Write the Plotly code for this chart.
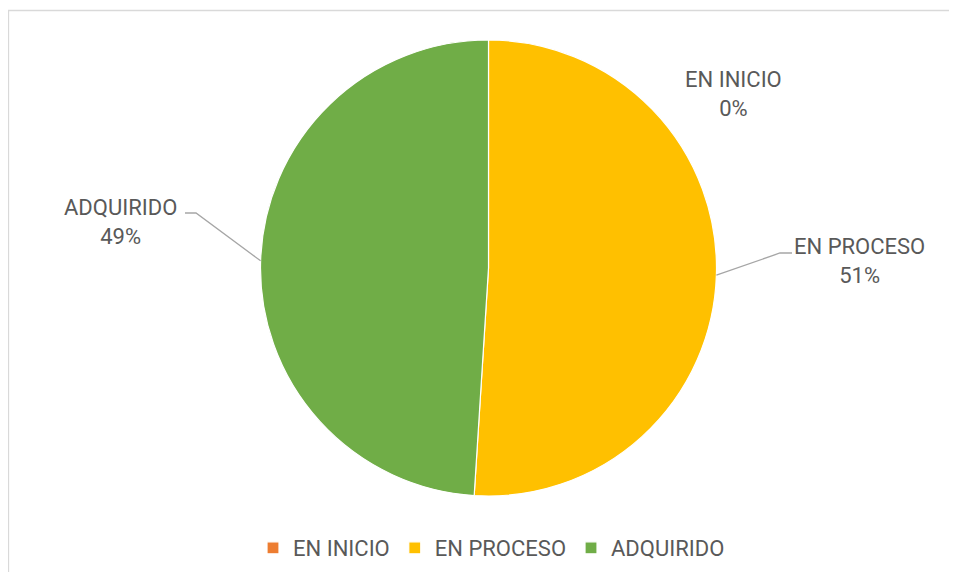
import math
import plotly.graph_objects as go

categories = ["EN INICIO", "EN PROCESO", "ADQUIRIDO"]
values = [0, 51, 49]
colors = ["#ED7D31", "#FFC000", "#70AD47"]

OFF = 8  # page body margin
W, H = 957 - 2 * OFF, 580 - 2 * OFF
FONT = "Roboto"
FS = 22
TXT = "#595959"


def px(x, y):
    """reference pixel -> paper coords"""
    return (x - OFF) / W, 1 - (y - OFF) / H


cx, cy, R = 488.5, 268, 228
(dx0, dy1), (dx1, dy0) = px(cx - R, cy - R), px(cx + R, cy + R)

fig = go.Figure(go.Pie(
    labels=categories, values=values, sort=False, direction="clockwise", rotation=0,
    marker=dict(colors=colors, line=dict(color="white", width=1.2)),
    textinfo="none", hoverinfo="label+percent", showlegend=True,
    domain=dict(x=[dx0, dx1], y=[dy0, dy1]),
))

total = sum(values)
pct = [f"{v / total * 100:.0f}%" for v in values]

label_pos = {"EN INICIO": (733, 94), "EN PROCESO": (859, 261), "ADQUIRIDO": (120, 222)}
elbow = {"EN PROCESO": ((780, 253), (792, 253)), "ADQUIRIDO": ((196, 213), (185, 213))}

annotations = []
shapes = []
cum = 0
for cat, v, p in zip(categories, values, pct):
    mid = (cum + v / 2) / total * 2 * math.pi
    cum += v
    lx, ly = px(*label_pos[cat])
    annotations.append(dict(x=lx, y=ly, xref="paper", yref="paper", xanchor="center", yanchor="middle",
                            text=f"{cat}<br>{p}", showarrow=False,
                            font=dict(family=FONT, size=FS, color=TXT), align="center"))
    if cat in elbow:
        ex, ey = px(cx + R * math.sin(mid), cy - R * math.cos(mid))
        (bx, by), (tx, ty) = px(*elbow[cat][0]), px(*elbow[cat][1])
        path = f"M {ex},{ey} L {bx},{by} L {tx},{ty}"
        shapes.append(dict(type="path", xref="paper", yref="paper", path=path,
                           line=dict(color="#A6A6A6", width=1.3)))

bx0, by1 = px(8.5, 10.5)
shapes.append(dict(type="rect", xref="paper", yref="paper", x0=bx0, y0=-0.1, x1=1.1, y1=by1,
                   line=dict(color="#D9D9D9", width=1.3), layer="below"))

lgx, lgy = px(491.5, 548)
fig.update_layout(
    width=W, height=H, margin=dict(l=0, r=0, t=0, b=0),
    paper_bgcolor="white", plot_bgcolor="white",
    annotations=annotations, shapes=shapes,
    legend=dict(orientation="h", x=lgx, xanchor="center", y=lgy, yanchor="middle",
                font=dict(family=FONT, size=FS, color=TXT), itemwidth=30,
                traceorder="normal"),
)
fig.write_html("out.html")
